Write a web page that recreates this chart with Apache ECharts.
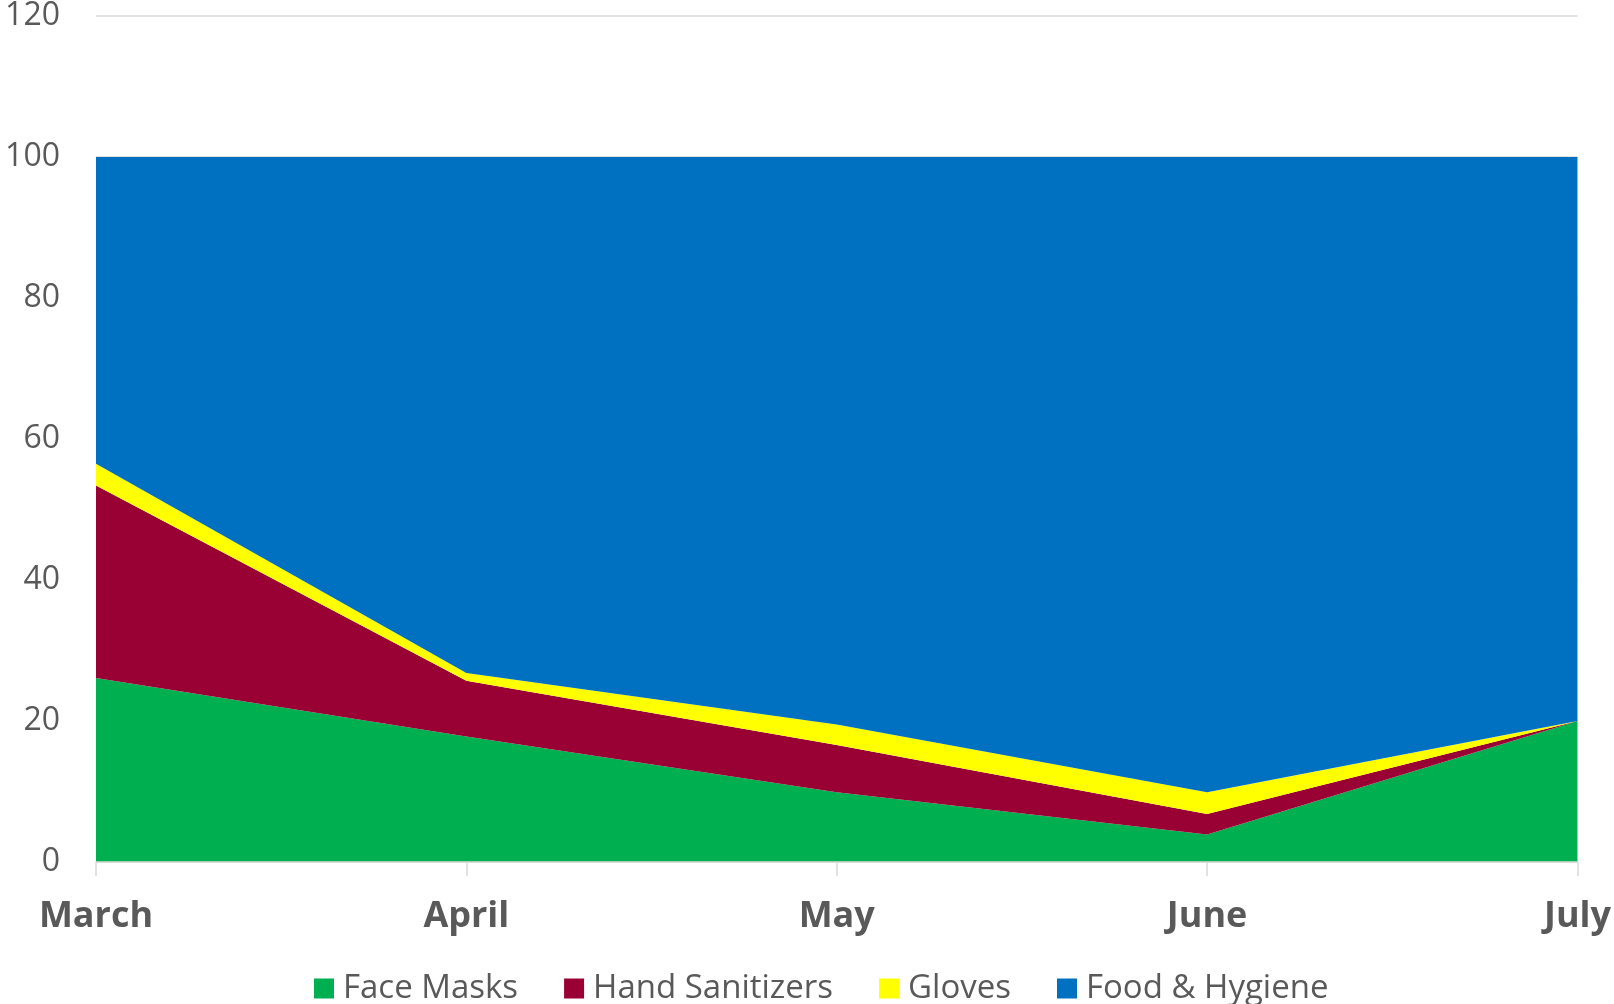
<!DOCTYPE html>
<html><head><meta charset="utf-8">
<script src="https://cdn.jsdelivr.net/npm/echarts@6/dist/echarts.min.js"></script>
<style>html,body{margin:0;padding:0;background:#fff}#c{width:1614px;height:1004px}</style>
</head><body><div id="c"></div>
<script>
const categories = ['March', 'April', 'May', 'June', 'July'];
const faceMasks = [26.1, 17.8, 9.9, 3.9, 20];
const handSanitizers = [27.3, 7.9, 6.7, 2.9, 0];
const gloves = [3.1, 1.1, 2.9, 3.1, 0];
const foodHygiene = [43.5, 73.2, 80.5, 90.1, 80];
const seriesNames = ['Face Masks', 'Hand Sanitizers', 'Gloves', 'Food & Hygiene'];
const colors = ['#00B050', '#990033', '#FFFF00', '#0070C0'];

const chart = echarts.init(document.getElementById('c'));
const mk = (name, data, color) => ({
  name, type: 'line', stack: 'total', data, symbol: 'none',
  lineStyle: { width: 0 }, itemStyle: { color },
  areaStyle: { color, opacity: 1 }
});
chart.setOption({
  animation: false,
  textStyle: { fontFamily: 'Open Sans' },
  grid: { left: 96, right: 34, top: 16, bottom: 142 },
  legend: {
    top: 972, left: 314, padding: 0, itemWidth: 20, itemHeight: 20, itemGap: 46,
    icon: 'rect',
    textStyle: { fontSize: 33, color: '#595959', fontFamily: 'Open Sans', padding: [0, 0, 0, 4] },
    data: seriesNames
  },
  xAxis: {
    type: 'category', data: categories, boundaryGap: false,
    axisLine: { lineStyle: { color: '#d9d9d9', width: 1.5 } },
    axisTick: { show: true, length: 14, lineStyle: { color: '#d9d9d9', width: 1.5 } },
    axisLabel: { fontSize: 36, fontWeight: 'bold', color: '#595959', margin: 37, fontFamily: 'Open Sans' },
    z: 10
  },
  yAxis: {
    type: 'value', min: 0, max: 120, interval: 20,
    axisLine: { show: false }, axisTick: { show: false },
    splitLine: { lineStyle: { color: '#d9d9d9', width: 1.5 } },
    axisLabel: { fontSize: 32, color: '#595959', margin: 36, fontFamily: 'Open Sans' }
  },
  series: [
    mk(seriesNames[0], faceMasks, colors[0]),
    mk(seriesNames[1], handSanitizers, colors[1]),
    mk(seriesNames[2], gloves, colors[2]),
    mk(seriesNames[3], foodHygiene, colors[3])
  ]
});
</script></body></html>
